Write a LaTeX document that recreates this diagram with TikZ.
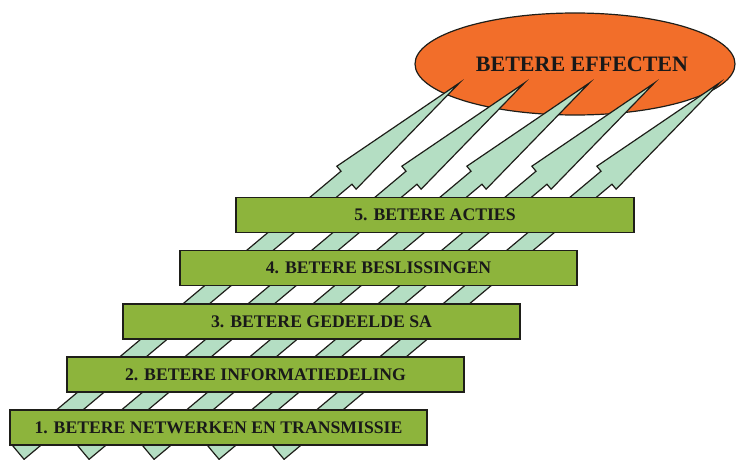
\documentclass[tikz,border=0pt]{standalone}
\usepackage{fontspec}
\setmainfont{Liberation Serif}
\usetikzlibrary{shapes.geometric}
\definecolor{boxgreen}{RGB}{141,180,60}
\definecolor{mint}{RGB}{180,222,195}
\definecolor{effectorange}{RGB}{242,110,42}
\definecolor{edge}{RGB}{30,30,25}
\tikzset{
  levelbox/.style={draw=edge, line width=1.3pt, fill=boxgreen, minimum height=35pt,
    inner sep=0pt, font=\fontsize{17.7}{20}\selectfont\bfseries, text=black!90},
  bigarrow/.style={draw=edge, line width=1.2pt, fill=mint, line join=miter},
  goal/.style={ellipse, draw=edge, line width=1.2pt, fill=effectorange, minimum width=320pt, minimum height=102pt, inner sep=0pt}
}
\begin{document}
\begin{tikzpicture}[x=1pt,y=1pt]
\useasboundingbox (0,0) rectangle (736,459);
% goal ellipse
\node[goal] (goal) at (575,395) {};
\node[font=\fontsize{22}{24}\selectfont\bfseries, text=black!90, inner sep=0pt] (goaltext) at (582,395) {BETERE EFFECTEN};
% arrows
\foreach \i in {0,...,4}{
  \begin{scope}[shift={(323.5+65*\i,262)}, rotate=40]
    \draw[bigarrow] (-398,-8.5) -- (30,-8.5) -- (30,-15) -- (177.4,0) -- (30,15) -- (30,8.5) -- (-398,8.5) -- cycle;
  \end{scope}
}
% level boxes
\node[levelbox, minimum width=417pt] (b1) at (218.5,31.5) {1. BETERE NETWERKEN EN TRANSMISSIE};
\node[levelbox, minimum width=397pt] (b2) at (265.5,84.5) {2. BETERE INFORMATIEDELING};
\node[levelbox, minimum width=397pt] (b3) at (321.5,137.5) {3. BETERE GEDEELDE SA};
\node[levelbox, minimum width=397pt] (b4) at (378.5,191) {4. BETERE BESLISSINGEN};
\node[levelbox, minimum width=398pt] (b5) at (435,244) {5. BETERE ACTIES};
\end{tikzpicture}
\end{document}
